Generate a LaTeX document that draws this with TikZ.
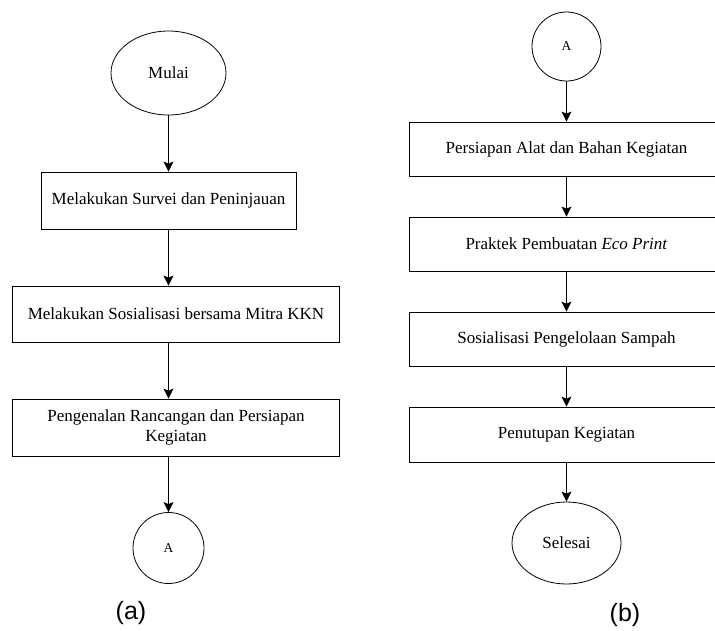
\documentclass[tikz,border=0pt]{standalone}
\usepackage{fontspec}
\setmainfont{Liberation Serif}
\newfontfamily\capfont{Liberation Sans}
\usetikzlibrary{arrows.meta,shapes.geometric}
\begin{document}
\begin{tikzpicture}[x=1pt,y=-1pt,
	box/.style={draw,line width=0.8pt,rectangle,inner sep=0pt,align=center,font=\fontsize{17}{20}\selectfont},
	term/.style={draw,line width=0.8pt,ellipse,inner sep=0pt,font=\fontsize{17}{20}\selectfont},
	conn/.style={draw,line width=0.8pt,circle,inner sep=0pt,minimum size=70pt,font=\fontsize{13.5}{16}\selectfont},
	flow/.style={line width=1.2pt,-{Stealth[length=10pt,width=10pt,inset=2pt]}},
	sublabel/.style={font=\capfont\fontsize{25}{28}\selectfont}]
				\useasboundingbox (0,0) rectangle (715,630);
				\clip (0,0) rectangle (715,630);
				% kolom (a)
				\node[term,minimum width=115pt,minimum height=84pt] (mulai) at (168.5,73) {Mulai};
				\node[box,minimum width=255pt,minimum height=57pt] (survei) at (168.5,200.5) {Melakukan Survei dan Peninjauan};
				\node[box,minimum width=327pt,minimum height=56pt] (sosial) at (176,314) {Melakukan Sosialisasi bersama Mitra KKN};
				\node[box,minimum width=327pt,minimum height=57pt] (kenal) at (176,427.5) {Pengenalan Rancangan dan Persiapan\\Kegiatan};
				\node[conn,minimum size=71pt] (A1) at (168.5,548) {A};
				\node[sublabel] (capa) at (131,613) {(a)};
				\draw[flow] (mulai.south) -- (survei.north);
				\draw[flow] (survei.south) -- (survei.south |- sosial.north);
				\draw[flow] (survei.south |- sosial.south) -- (survei.south |- kenal.north);
				\draw[flow] (A1.north |- kenal.south) -- (A1.north);
				% kolom (b)
				\node[conn,minimum size=69pt] (A2) at (566.5,46.5) {A};
				\node[box,minimum width=314pt,minimum height=54pt] (alat) at (566.5,149) {Persiapan Alat dan Bahan Kegiatan};
				\node[box,minimum width=314pt,minimum height=54pt] (praktek) at (566.5,244) {Praktek Pembuatan \textit{Eco Print}};
				\node[box,minimum width=314pt,minimum height=54pt] (sampah) at (566.5,339) {Sosialisasi Pengelolaan Sampah};
				\node[box,minimum width=314pt,minimum height=55pt] (tutup) at (566.5,434.5) {Penutupan Kegiatan};
				\node[term,minimum width=109pt,minimum height=82pt] (selesai) at (566.5,543) {Selesai};
				\node[sublabel] (capb) at (625,615) {(b)};
				\draw[flow] (A2.south) -- (alat.north);
				\draw[flow] (alat.south) -- (praktek.north);
				\draw[flow] (praktek.south) -- (sampah.north);
				\draw[flow] (sampah.south) -- (tutup.north);
				\draw[flow] (tutup.south) -- (selesai.north);
\end{tikzpicture}
\end{document}
